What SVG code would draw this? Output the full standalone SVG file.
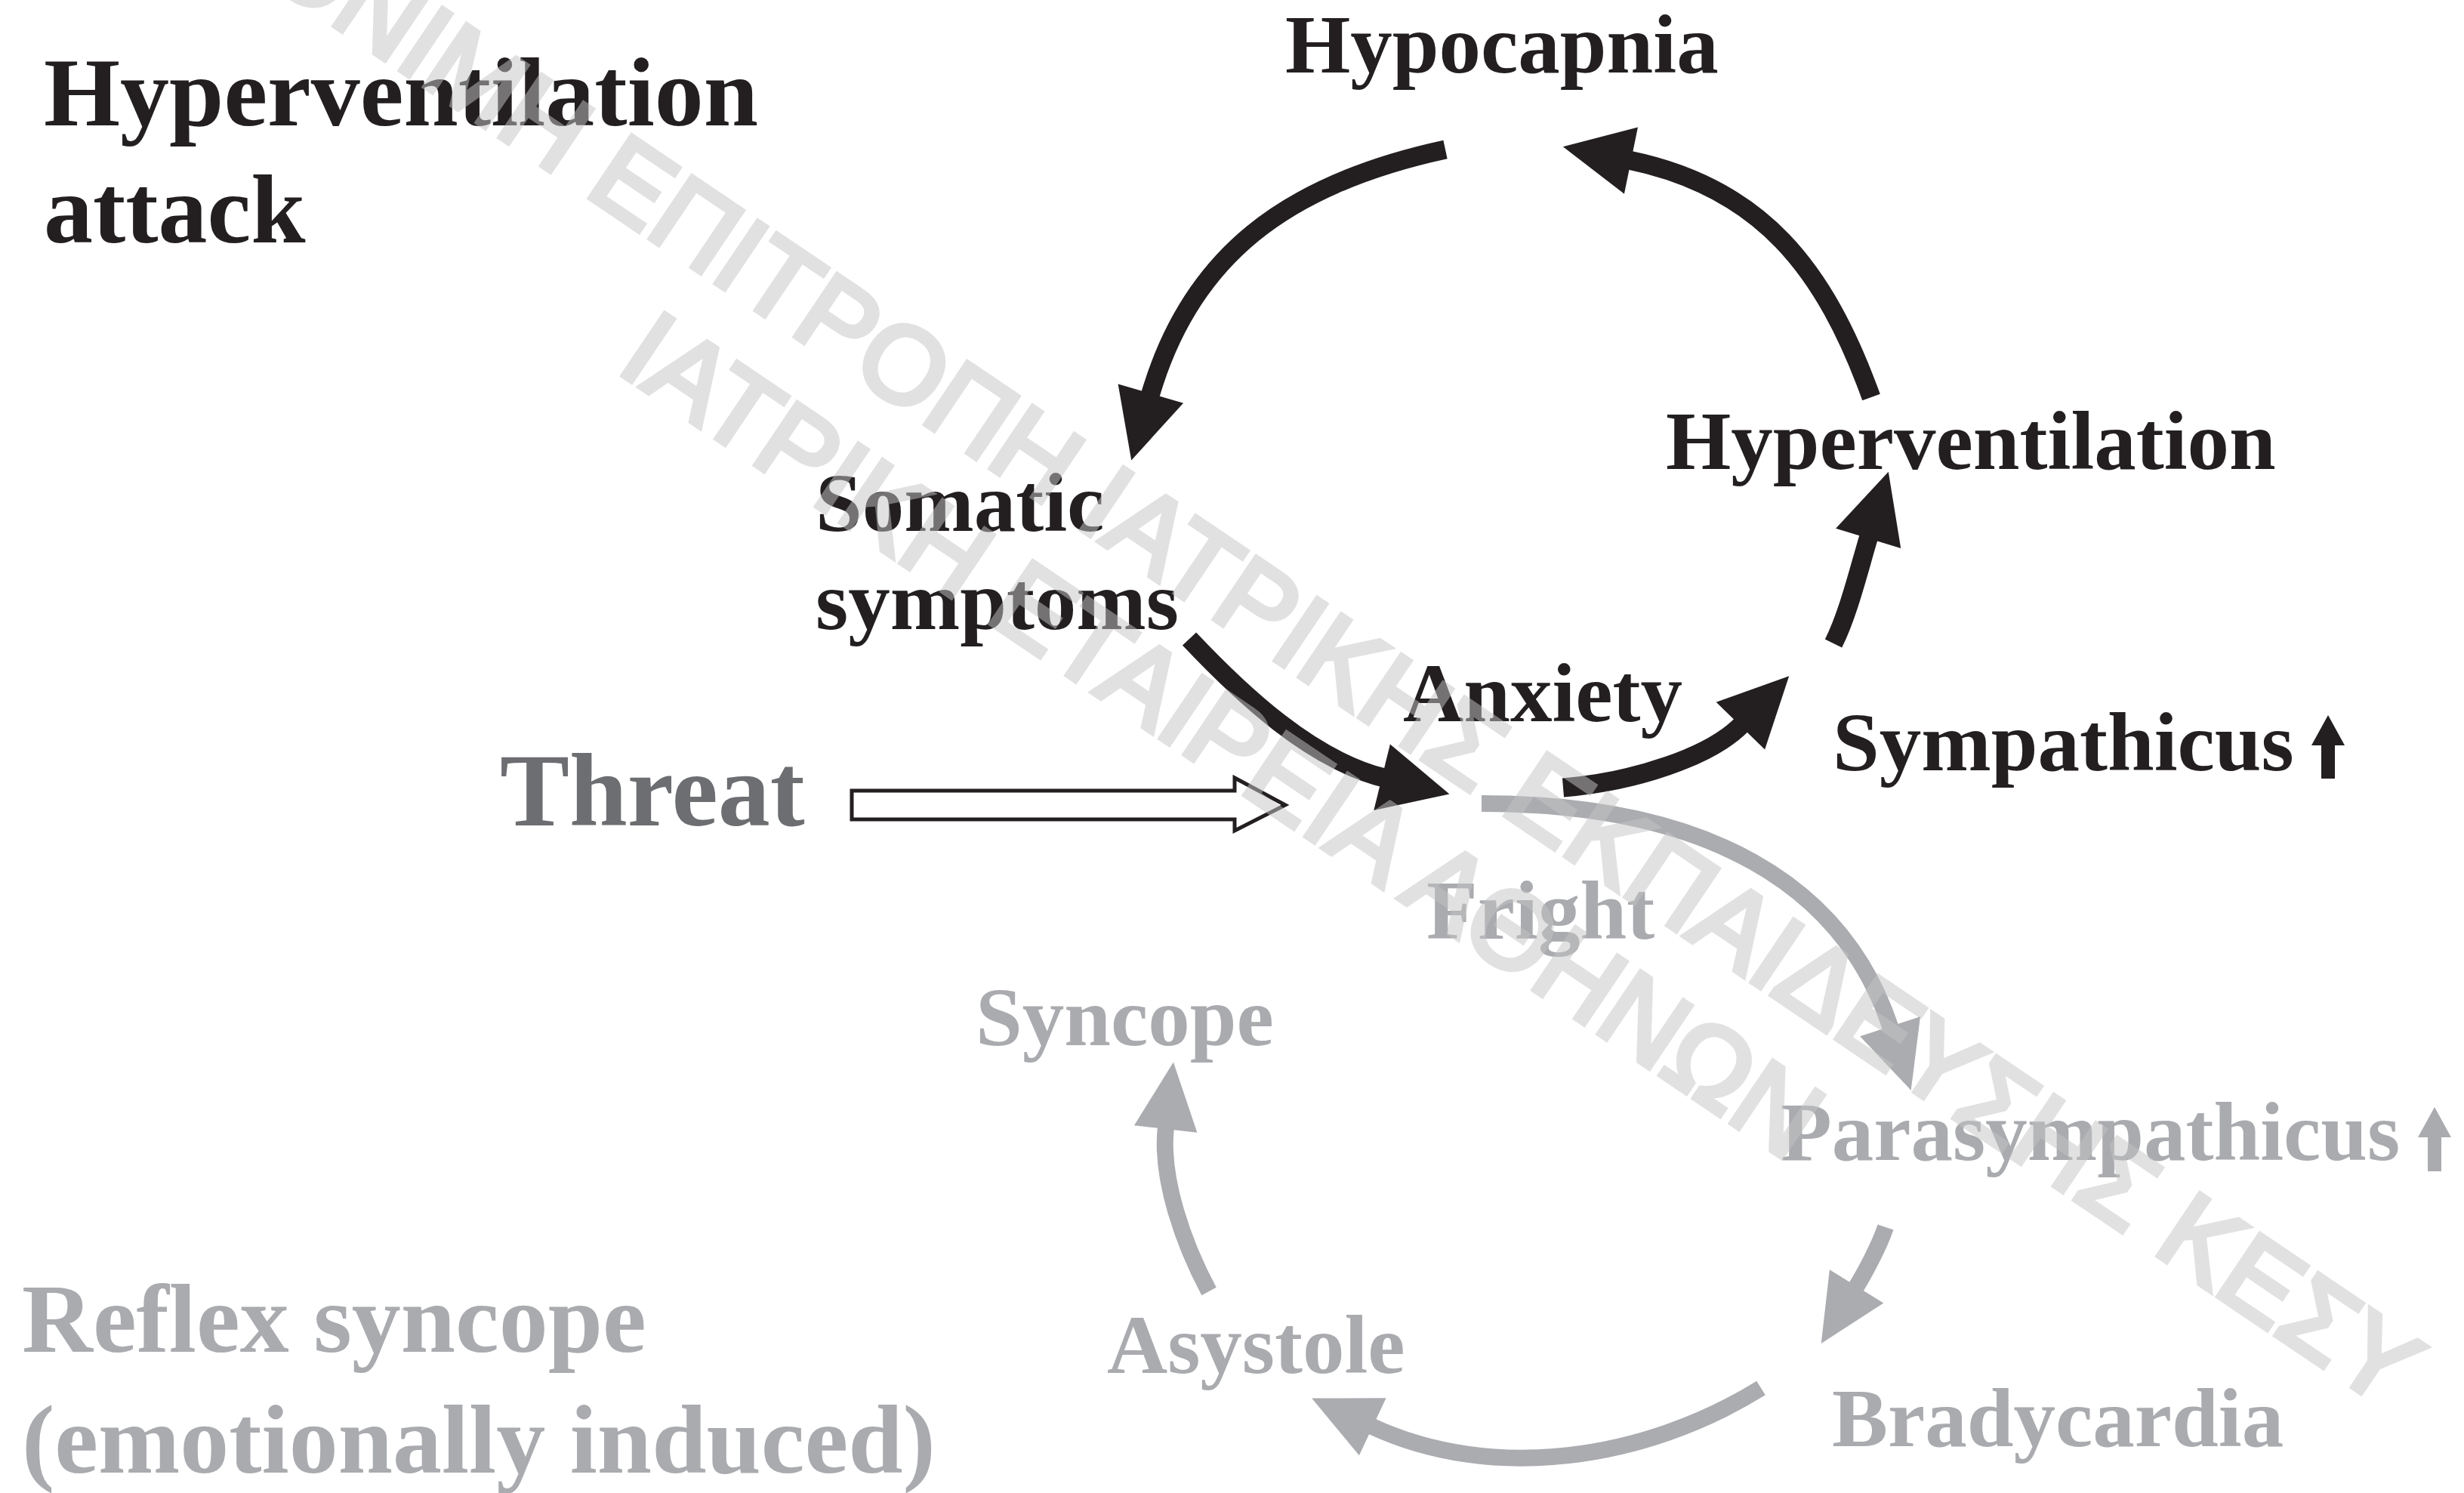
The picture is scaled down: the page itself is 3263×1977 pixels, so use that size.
<svg xmlns="http://www.w3.org/2000/svg" width="3263" height="1977" viewBox="0 0 3263 1977">
<defs>
<style>
.lb{font-family:"Liberation Serif","Times New Roman",serif;font-weight:bold}
.t1{font-size:130px}
.t2{font-size:111px}
.k{fill:#231f20}
.g{fill:#a9abaf}
.thr{fill:#6d6e71;font-size:138px}
.ck{fill:none;stroke:#231f20;stroke-width:25;stroke-linecap:butt}
.cg{fill:none;stroke:#abacb0;stroke-width:22;stroke-linecap:butt}
.wm{font-family:"Liberation Sans",Arial,sans-serif;font-size:144px;fill:#c4c4c4;stroke:#c4c4c4;stroke-width:7;stroke-linejoin:miter}
</style>
<marker id="hk" markerUnits="userSpaceOnUse" viewBox="0 -50 100 100" markerWidth="100" markerHeight="100" refX="0" refY="0" orient="auto" overflow="visible">
<path d="M-3,-45 L89,0 L-3,45 z" fill="#231f20"/>
</marker>
<marker id="hg" markerUnits="userSpaceOnUse" viewBox="0 -50 100 100" markerWidth="100" markerHeight="100" refX="0" refY="0" orient="auto" overflow="visible">
<path d="M-3,-42 L86,0 L-3,42 z" fill="#abacb0"/>
</marker>
</defs>
<rect width="3263" height="1977" fill="#ffffff"/>

<g id="title-hyperventilation-attack">
<text class="lb t1 k" x="58" y="166">Hyperventilation</text>
<text class="lb t1 k" x="58" y="321">attack</text>
</g>
<g id="node-hypocapnia"><text class="lb t2 k" x="1702" y="96">Hypocapnia</text></g>
<g id="node-somatic"><text class="lb t2 k" x="1080" y="703">Somatic</text><text class="lb t2 k" x="1080" y="833">symptoms</text></g>
<g id="node-hyperventilation"><text class="lb t2 k" x="2206" y="621">Hyperventilation</text></g>
<g id="node-anxiety"><text class="lb t2 k" x="1858" y="955">Anxiety</text></g>
<g id="node-sympathicus"><text class="lb t2 k" x="2427" y="1020">Sympathicus</text>
<polygon class="k" points="3083,947 3105,987 3092,987 3092,1031 3074,1031 3074,987 3061,987"/></g>
<g id="node-threat"><text class="lb thr" x="662" y="1093">Threat</text></g>
<g id="node-fright"><text class="lb t2 g" x="1889" y="1243">Fright</text></g>
<g id="node-syncope"><text class="lb t2 g" x="1292" y="1384">Syncope</text></g>
<g id="node-parasympathicus"><text class="lb t2 g" x="2358" y="1536">Parasympathicus</text>
<polygon class="g" points="3224,1466 3246,1506 3233,1506 3233,1551 3215,1551 3215,1506 3202,1506"/></g>
<g id="node-asystole"><text class="lb t2 g" x="1466" y="1818">Asystole</text></g>
<g id="node-bradycardia"><text class="lb t2 g" x="2426" y="1915">Bradycardia</text></g>
<g id="title-reflex-syncope">
<text class="lb t1 g" x="29" y="1790">Reflex syncope</text>
<text class="lb t1 g" x="29" y="1950">(emotionally induced)</text>
</g>

<g id="connectors">
<path class="ck" marker-end="url(#hk)" d="M1914,198 C1701,244 1576,341 1523,524"/>
<path class="ck" marker-end="url(#hk)" d="M2478,526 C2417,357 2333,248 2157,212"/>
<path class="ck" marker-end="url(#hk)" d="M1575,846 C1644,919 1736,1006 1833,1030"/>
<path class="ck" marker-end="url(#hk)" d="M2070,1043 C2165,1035 2265,1002 2307,959"/>
<path class="ck" marker-end="url(#hk)" d="M2428,852 C2448,812 2462,753 2475,710"/>
<path class="cg" marker-end="url(#hg)" d="M1962,1064 C2262,1064 2442,1172 2504,1362"/>
<path class="cg" marker-end="url(#hg)" d="M2497,1625 C2489,1649 2470,1685 2457,1706"/>
<path class="cg" marker-end="url(#hg)" d="M2332,1838 C2179,1933 1977,1964 1815,1888"/>
<path class="cg" marker-end="url(#hg)" d="M1601,1710 C1568,1648 1536,1561 1544,1492"/>
<polygon points="1128,1047 1635,1047 1635,1030 1702,1066 1635,1100 1635,1085 1128,1085" fill="#ffffff" stroke="#231f20" stroke-width="5"/>
</g>

<g id="watermark" opacity="0.5">
<text class="wm" transform="translate(241,-102) rotate(34)">ΜΟΝΙΜΗ ΕΠΙΤΡΟΠΗ ΙΑΤΡΙΚΗΣ ΕΚΠΑΙΔΕΥΣΗΣ ΚΕΣΥ</text>
<text class="wm" transform="translate(814,490) rotate(34)">ΙΑΤΡΙΚΗ ΕΤΑΙΡΕΙΑ ΑΘΗΝΩΝ</text>
</g>
</svg>
